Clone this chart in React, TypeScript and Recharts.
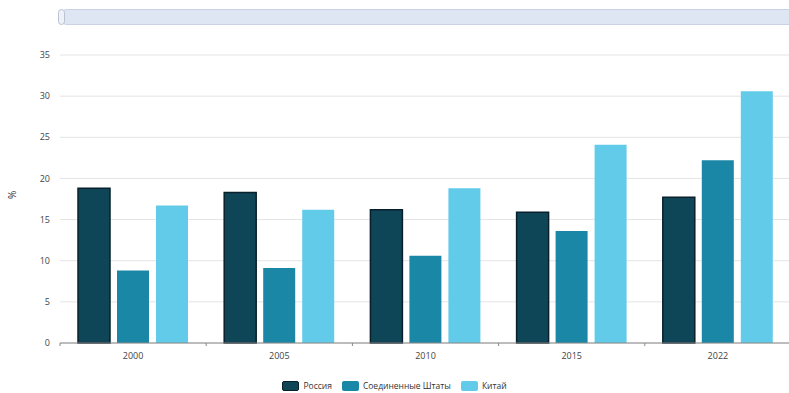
import { BarChart, Bar, XAxis, YAxis, CartesianGrid, Legend } from "recharts"

const years = ["2000", "2005", "2010", "2015", "2022"]
const russia = [18.8, 18.3, 16.2, 15.9, 17.7]
const usa = [8.8, 9.1, 10.6, 13.6, 22.2]
const china = [16.7, 16.2, 18.8, 24.1, 30.6]
const yTicks = [0, 5, 10, 15, 20, 25, 30, 35]

const SERIES = [
  { key: "russia", name: "Россия", fill: "#0e4557", stroke: "#08202b" },
  { key: "usa", name: "Соединенные Штаты", fill: "#1b87a6", stroke: "none" },
  { key: "china", name: "Китай", fill: "#62cbea", stroke: "none" },
]

const data = years.map((year, i) => ({ year, russia: russia[i], usa: usa[i], china: china[i] }))

const FONT = "'Open Sans', sans-serif"

function XTick(props: any) {
  const { x, y, payload } = props
  const off = payload.offset ?? 0
  return (
    <g>
      <line x1={x - off} x2={x - off} y1={y - 8} y2={y - 5} stroke="#888" />
      <text x={x} y={y + 8} textAnchor="middle" fontSize={9} fill="#444" fontFamily={FONT}>
        {payload.value}
      </text>
    </g>
  )
}

function LegendContent() {
  return (
    <div style={{ display: "flex", justifyContent: "center", alignItems: "center", gap: 10, fontFamily: FONT, fontSize: 8.5, color: "#333", paddingTop: 17, width: 789 }}>
      {SERIES.map((s) => (
        <div key={s.key} style={{ display: "flex", alignItems: "center", gap: 4 }}>
          <span
            style={{
              display: "inline-block",
              width: 17,
              height: 10,
              borderRadius: 2,
              background: s.fill,
              border: s.stroke === "none" ? "none" : `1.5px solid ${s.stroke}`,
              boxSizing: "border-box",
            }}
          />
          <span>{s.name}</span>
        </div>
      ))}
    </div>
  )
}

export default function App() {
  return (
    <div style={{ position: "absolute", left: 0, top: 0, width: 789, height: 393, background: "#fff", overflow: "hidden" }}>
      {/* scroller strip on top */}
      <div
        style={{
          position: "absolute",
          left: 60,
          top: 9,
          width: 740,
          height: 14,
          background: "#dfe6f3",
          border: "1px solid #c9d3e5",
          borderRadius: 7,
        }}
      />
      <div
        style={{
          position: "absolute",
          left: 58,
          top: 9,
          width: 5,
          height: 14,
          background: "#eef2f8",
          border: "1px solid #b9c2d2",
          borderRadius: 4,
        }}
      />
      <BarChart
        width={791}
        height={393}
        data={data}
        margin={{ top: 55, right: 0, bottom: 0, left: 0 }}
        barSize={32}
        barGap={7}
      >
        <CartesianGrid vertical={false} stroke="#e4e4e4" />
        <XAxis
          dataKey="year"
          height={20}
          axisLine={{ stroke: "#888" }}
          tickLine={false}
          tick={<XTick />}
          interval={0}
        />
        <YAxis
          width={60}
          domain={[0, 35]}
          ticks={yTicks}
          axisLine={false}
          tickLine={false}
          tickMargin={4}
          tick={{ fontSize: 9, fill: "#444", fontFamily: FONT }}
          label={{ value: "%", angle: -90, position: "insideLeft", offset: 12, style: { fontSize: 10, fill: "#333", fontFamily: FONT } }}
        />
        <Legend verticalAlign="bottom" content={<LegendContent />} wrapperStyle={{ height: 30, left: 0, width: 789 }} />
        {SERIES.map((s) => (
          <Bar
            key={s.key}
            dataKey={s.key}
            name={s.name}
            fill={s.fill}
            stroke={s.stroke}
            strokeWidth={s.stroke === "none" ? 0 : 1.5}
            isAnimationActive={false}
          />
        ))}
      </BarChart>
    </div>
  )
}
